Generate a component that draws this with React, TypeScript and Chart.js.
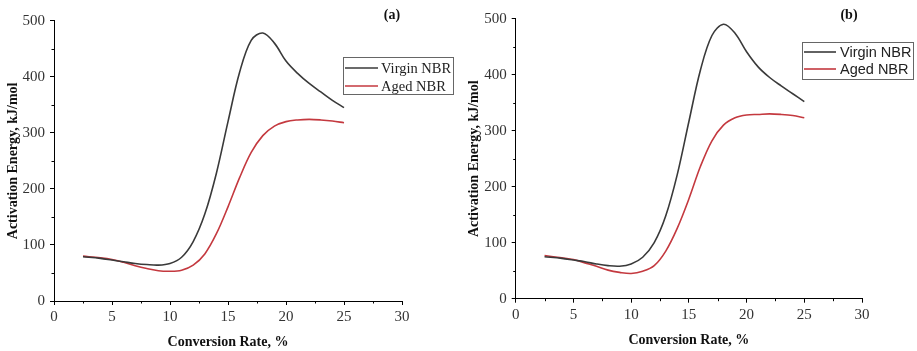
import React, { useEffect, useRef } from "react";
import { Chart, registerables } from "chart.js";

Chart.register(...registerables);

// ---- data ----
const conversionRate = [2.5, 4, 5, 6, 7, 8, 9, 10, 11, 12, 13, 14, 15, 16, 17, 18, 19, 20, 21, 22, 23, 24, 25];
const virginA = [79, 76, 73, 70, 67, 65, 64, 67, 78, 106, 155, 228, 320, 408, 465, 478, 460, 428, 406, 388, 373, 358, 345];
const agedA = [80, 77, 74, 69, 63, 58, 54, 53, 55, 64, 84, 120, 168, 220, 265, 295, 312, 320, 323, 324, 323, 321, 318];
const virginB = [75, 72, 69, 66, 62, 59, 58, 62, 74, 100, 148, 222, 316, 408, 470, 490, 474, 441, 414, 395, 380, 366, 352];
const agedB = [77, 73, 70, 64, 58, 51, 47, 45, 49, 59, 85, 126, 178, 236, 282, 310, 323, 328, 329, 330, 329, 327, 323];
const xTicks = [0, 5, 10, 15, 20, 25, 30];
const yTicks = [0, 100, 200, 300, 400, 500];
const seriesNames = ["Virgin NBR", "Aged NBR"];
const panelTags = ["(a)", "(b)"];

const SERIF = "'Liberation Serif', 'Times New Roman', serif";
const SANS = "'Liberation Sans', Arial, sans-serif";
const VIRGIN_COLOR = "#3a3a3a";
const AGED_COLOR = "#c4393f";

type Geom = {
  width: number;
  axisLeft: number;
  plotRight: number;
  top: number;
  bottom: number;
  yTitlePad: number;
  xTitlePad: number;
  legend: { x: number; y: number; w: number; h: number; lineX0: number; lineX1: number; textX: number; row1: number; row2: number };
  legendFont: string;
  tagX: number;
  tagY: number;
};

function Panel({ left, geom, virgin, aged, tag }: { left: number; geom: Geom; virgin: number[]; aged: number[]; tag: string }) {
  const ref = useRef<HTMLCanvasElement | null>(null);
  useEffect(() => {
    if (!ref.current) return;
    const decor = {
      id: "decor",
      afterDraw(chart: any) {
        const ctx = chart.ctx;
        const xs = chart.scales.x;
        const ys = chart.scales.y;
        ctx.save();
        // minor ticks
        ctx.strokeStyle = "#000";
        ctx.lineWidth = 1;
        ctx.beginPath();
        for (let i = 0; i < xTicks.length - 1; i++) {
          const v = (xTicks[i] + xTicks[i + 1]) / 2;
          const px = Math.round(xs.getPixelForValue(v)) + 0.5;
          ctx.moveTo(px, ys.bottom);
          ctx.lineTo(px, ys.bottom + 2.5);
        }
        for (let i = 0; i < yTicks.length - 1; i++) {
          const v = (yTicks[i] + yTicks[i + 1]) / 2;
          const py = Math.round(ys.getPixelForValue(v)) + 0.5;
          ctx.moveTo(xs.left, py);
          ctx.lineTo(xs.left - 2.5, py);
        }
        ctx.stroke();
        // legend
        const L = geom.legend;
        ctx.strokeStyle = "#666";
        ctx.lineWidth = 1;
        ctx.strokeRect(L.x + 0.5, L.y + 0.5, L.w, L.h);
        const rows = [L.row1, L.row2];
        chart.data.datasets.forEach((ds: any, i: number) => {
          ctx.strokeStyle = ds.borderColor;
          ctx.lineWidth = 1.6;
          ctx.beginPath();
          ctx.moveTo(L.lineX0, rows[i]);
          ctx.lineTo(L.lineX1, rows[i]);
          ctx.stroke();
          ctx.fillStyle = "#222";
          ctx.font = geom.legendFont;
          ctx.textAlign = "left";
          ctx.textBaseline = "middle";
          ctx.fillText(ds.label, L.textX, rows[i] + 1);
        });
        // panel tag
        ctx.fillStyle = "#111";
        ctx.font = `bold 14px ${SERIF}`;
        ctx.textAlign = "center";
        ctx.textBaseline = "middle";
        ctx.fillText(tag, geom.tagX, geom.tagY);
        ctx.restore();
      },
    };
    const chart = new Chart(ref.current, {
      type: "line",
      data: {
        datasets: [
          {
            label: seriesNames[0],
            data: conversionRate.map((x, i) => ({ x, y: virgin[i] })),
            borderColor: VIRGIN_COLOR,
            borderWidth: 1.6,
            pointRadius: 0,
            tension: 0.35,
            fill: false,
          },
          {
            label: seriesNames[1],
            data: conversionRate.map((x, i) => ({ x, y: aged[i] })),
            borderColor: AGED_COLOR,
            borderWidth: 1.6,
            pointRadius: 0,
            tension: 0.35,
            fill: false,
          },
        ],
      },
      options: {
        animation: false,
        responsive: false,
        maintainAspectRatio: false,
        events: [],
        layout: {
          padding: { left: 0, right: geom.width - geom.plotRight, top: geom.top, bottom: 0 },
        },
        plugins: { legend: { display: false }, tooltip: { enabled: false }, title: { display: false } },
        scales: {
          x: {
            type: "linear",
            min: 0,
            max: 30,
            afterFit: (s: any) => {
              s.height = 351 - geom.bottom;
            },
            afterBuildTicks: (s: any) => {
              s.ticks = xTicks.map((v) => ({ value: v }));
            },
            ticks: { font: { family: SERIF, size: 15 }, color: "#333", padding: 3, maxRotation: 0 },
            grid: { drawOnChartArea: false, drawTicks: true, tickLength: 4, color: "#000" },
            border: { display: true, color: "#000", width: 1 },
            title: {
              display: true,
              text: "Conversion Rate, %",
              font: { family: SERIF, size: 14, weight: "bold" },
              color: "#111",
              padding: { top: 0, bottom: geom.xTitlePad },
            },
          },
          y: {
            type: "linear",
            min: 0,
            max: 500,
            afterFit: (s: any) => {
              s.width = geom.axisLeft;
            },
            afterBuildTicks: (s: any) => {
              s.ticks = yTicks.map((v) => ({ value: v }));
            },
            ticks: { font: { family: SERIF, size: 15 }, color: "#333", padding: 5 },
            grid: { drawOnChartArea: false, drawTicks: true, tickLength: 4, color: "#000" },
            border: { display: true, color: "#000", width: 1 },
            title: {
              display: true,
              text: "Activation Energy, kJ/mol",
              font: { family: SERIF, size: 14, weight: "bold" },
              color: "#111",
              padding: { top: geom.yTitlePad, bottom: 0 },
            },
          },
        },
      } as any,
      plugins: [decor],
    });
    return () => chart.destroy();
  }, []);
  return (
    <canvas
      ref={ref}
      width={geom.width}
      height={351}
      style={{ position: "absolute", left, top: 0, width: geom.width, height: 351, display: "block" }}
    />
  );
}

const geomA: Geom = {
  width: 458,
  axisLeft: 54,
  plotRight: 402,
  top: 20.7,
  bottom: 301,
  yTitlePad: 4.6,
  xTitlePad: 0.6,
  legend: { x: 343, y: 57, w: 110, h: 37, lineX0: 345, lineX1: 378, textX: 381, row1: 68, row2: 86 },
  legendFont: `14.5px ${SERIF}`,
  tagX: 392,
  tagY: 15,
};

const geomB: Geom = {
  width: 459,
  axisLeft: 57.7,
  plotRight: 404,
  top: 18.7,
  bottom: 298.7,
  yTitlePad: 7.6,
  xTitlePad: 2.6,
  legend: { x: 344, y: 42, w: 111, h: 37, lineX0: 346, lineX1: 378, textX: 382, row1: 52, row2: 69 },
  legendFont: `14.5px ${SANS}`,
  tagX: 391,
  tagY: 15,
};

export default function App() {
  return (
    <div style={{ position: "absolute", left: 0, top: 0, width: 917, height: 351, background: "#fff", overflow: "hidden" }}>
      <Panel left={0} geom={geomA} virgin={virginA} aged={agedA} tag={panelTags[0]} />
      <Panel left={458} geom={geomB} virgin={virginB} aged={agedB} tag={panelTags[1]} />
    </div>
  );
}
